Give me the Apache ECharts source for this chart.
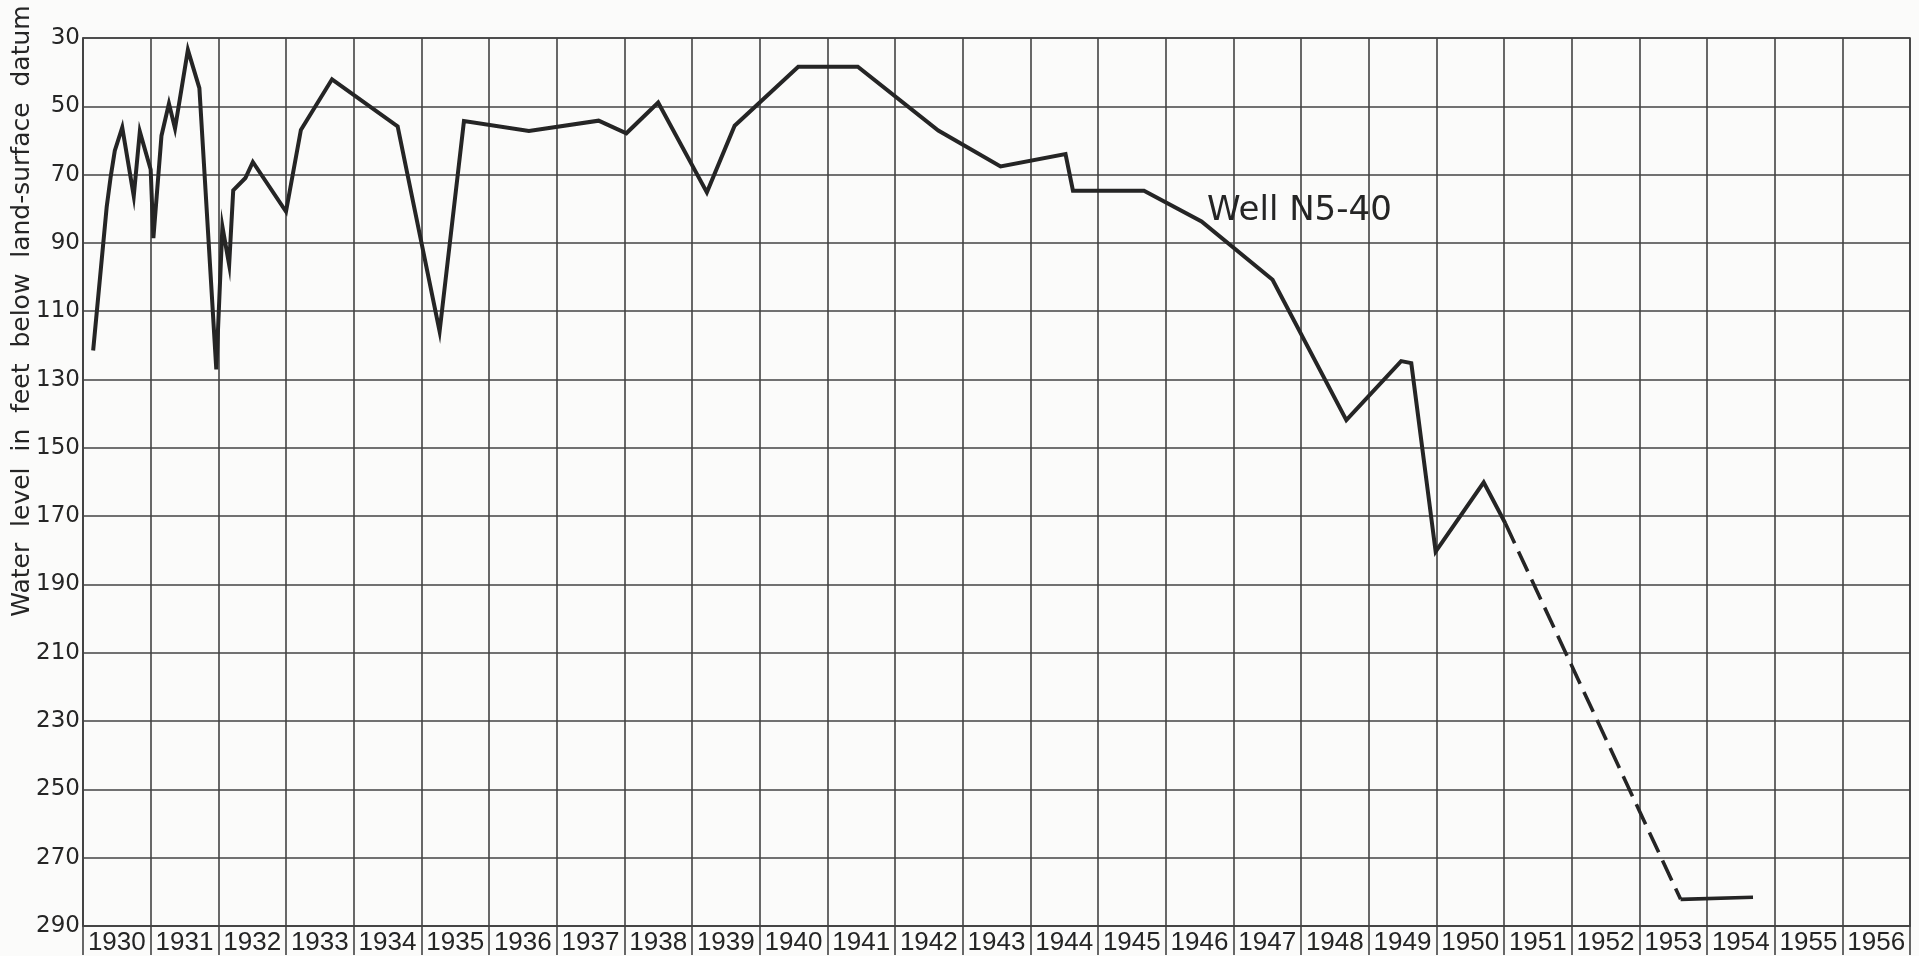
<!DOCTYPE html>
<html>
<head>
<meta charset="utf-8">
<title>Well N5-40</title>
<script src="https://cdn.jsdelivr.net/npm/echarts@6.0.0/dist/echarts.min.js"></script>
<style>
  html, body { margin: 0; padding: 0; background: #fbfbfa; }
  #main { width: 1919px; height: 956px; }
</style>
</head>
<body>
<div id="main"></div>
<script>
// year columns along the bottom
const years = ['1930', '1931', '1932', '1933', '1934', '1935', '1936', '1937', '1938',
  '1939', '1940', '1941', '1942', '1943', '1944', '1945', '1946', '1947', '1948',
  '1949', '1950', '1951', '1952', '1953', '1954', '1955', '1956']

// measured levels, feet below land-surface datum (date as decimal year)
const measuredDates = [1930.15, 1930.35, 1930.41, 1930.47, 1930.58, 1930.75, 1930.84, 1931.0,
  1931.04, 1931.16, 1931.27, 1931.36, 1931.55, 1931.72, 1931.97, 1932.06, 1932.16, 1932.22,
  1932.40, 1932.51, 1933.0, 1933.22, 1933.68, 1934.65, 1935.27, 1935.63, 1936.59, 1937.62,
  1938.03, 1938.50, 1939.22, 1939.63, 1940.57, 1941.45, 1942.64, 1943.56, 1944.52, 1944.63,
  1945.68, 1946.53, 1947.58, 1948.67, 1949.48, 1949.63, 1949.99, 1950.70, 1951.02]
const measuredLevels = [121.5, 79.5, 70.5, 63, 56.2, 76.3, 57.4, 68.5,
  88.6, 58.6, 49.2, 56.5, 33.5, 44.7, 127, 85.2, 96.4, 74.6,
  71, 66.3, 80.8, 56.9, 42.1, 55.9, 115.9, 54.3, 57.2, 54.2,
  57.9, 48.9, 75.2, 55.7, 38.4, 38.4, 57.1, 67.6, 64, 74.7,
  74.7, 83.7, 100.8, 141.9, 124.6, 125.2, 180.4, 160.1, 172.1]

// estimated decline (dashed)
const estimatedDates = [1951.02, 1953.61]
const estimatedLevels = [172.1, 282.2]

// last measurements
const recentDates = [1953.61, 1954.68]
const recentLevels = [282.2, 281.6]

const yTicks = { min: 30, max: 290, step: 20 }

const zip = (xs, ys) => xs.map((x, i) => [x, ys[i]])

const gridColor = '#434343'
const inkColor = '#252525'

var chart = echarts.init(document.getElementById('main'))

var option = {
  backgroundColor: '#fbfbfa',
  animation: false,
  grid: {
    left: 83,
    right: 9,
    top: 38,
    bottom: 29,
    show: true,
    borderColor: gridColor,
    borderWidth: 1.6
  },
  xAxis: [
    {
      // label columns + vertical grid
      type: 'category',
      data: years,
      boundaryGap: true,
      position: 'bottom',
      axisLine: { lineStyle: { color: gridColor, width: 1.6 } },
      axisTick: {
        show: true,
        interval: 0,
        alignWithLabel: false,
        length: 29,
        lineStyle: { color: gridColor, width: 1.6 }
      },
      axisLabel: {
        interval: 0,
        margin: 4,
        color: inkColor,
        fontSize: 26,
        fontFamily: 'Liberation Sans'
      },
      splitLine: { show: true, interval: 0, lineStyle: { color: gridColor, width: 1.6 } }
    },
    {
      // time scale for the hydrograph
      type: 'value',
      min: 1930,
      max: 1957,
      show: false
    }
  ],
  yAxis: {
    type: 'value',
    inverse: true,
    min: yTicks.min,
    max: yTicks.max,
    interval: yTicks.step,
    axisLine: { show: true, lineStyle: { color: gridColor, width: 1.6 } },
    axisTick: { show: false },
    axisLabel: {
      margin: 3,
      color: inkColor,
      fontSize: 23,
      fontFamily: 'DejaVu Sans'
    },
    splitLine: { show: true, lineStyle: { color: gridColor, width: 1.6 } }
  },
  graphic: [
    {
      type: 'text',
      x: 22,
      y: 311,
      rotation: Math.PI / 2,
      style: {
        text: 'Water  level  in  feet  below  land-surface  datum',
        fontSize: 25,
        fontFamily: 'DejaVu Sans',
        fill: inkColor,
        textAlign: 'center',
        textVerticalAlign: 'middle'
      }
    }
  ],
  series: [
    {
      name: 'measured',
      type: 'line',
      xAxisIndex: 1,
      data: zip(measuredDates, measuredLevels),
      showSymbol: false,
      lineStyle: { color: inkColor, width: 4, join: 'miter' },
      markPoint: {
        symbol: 'circle',
        symbolSize: 0,
        data: [{ coord: [1946.61, 80.6] }],
        label: {
          show: true,
          position: 'right',
          distance: 0,
          formatter: 'Well N5-40',
          color: inkColor,
          fontSize: 34,
          fontFamily: 'DejaVu Sans'
        }
      }
    },
    {
      name: 'estimated',
      type: 'line',
      xAxisIndex: 1,
      data: zip(estimatedDates, estimatedLevels),
      showSymbol: false,
      lineStyle: { color: inkColor, width: 3.6, type: [22, 9] }
    },
    {
      name: 'recent',
      type: 'line',
      xAxisIndex: 1,
      data: zip(recentDates, recentLevels),
      showSymbol: false,
      lineStyle: { color: inkColor, width: 3.6 }
    }
  ]
}

chart.setOption(option)
</script>
</body>
</html>
